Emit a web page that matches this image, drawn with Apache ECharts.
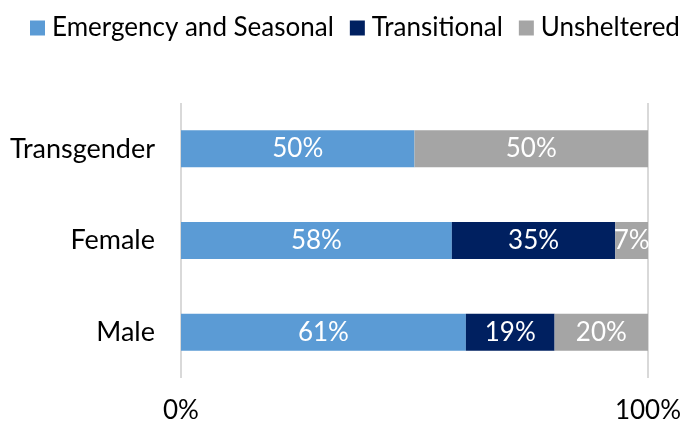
<!DOCTYPE html>
<html><head><meta charset="utf-8">
<script src="https://cdn.jsdelivr.net/npm/echarts@6/dist/echarts.min.js"></script>
<style>html,body{margin:0;padding:0;background:#fff}#c{width:700px;height:426px}</style>
</head><body><div id="c"></div>
<script>
const categories = ['Male', 'Female', 'Transgender'];
const seriesNames = ['Emergency and Seasonal', 'Transitional', 'Unsheltered'];
const emergency = [61, 58, 50];
const transitional = [19, 35, 0];
const unsheltered = [20, 7, 50];
const xTicks = [0, 100];
const colors = ['#5B9BD5', '#002060', '#A5A5A5'];
const values = [emergency, transitional, unsheltered];

const chart = echarts.init(document.getElementById('c'));
const font = 'Lato, "Open Sans", sans-serif';
chart.setOption({
  animation: false,
  textStyle: { fontFamily: font },
  legend: {
    top: 10, left: 25,
    itemWidth: 15, itemHeight: 15, itemGap: 16,
    icon: 'rect',
    textStyle: { fontSize: 26, color: '#000', fontFamily: font, padding: [0, 0, 0, 2] },
    data: seriesNames
  },
  grid: { left: 181, right: 52, top: 103, bottom: 48 },
  xAxis: {
    type: 'value', min: xTicks[0], max: xTicks[1], interval: xTicks[1] - xTicks[0],
    axisLine: { show: false }, axisTick: { show: false },
    splitLine: { show: true, lineStyle: { color: '#D9D9D9', width: 2 } },
    axisLabel: { fontSize: 26, color: '#000', margin: 20, formatter: v => v + '%' }
  },
  yAxis: {
    type: 'category', data: categories,
    axisLine: { show: false }, axisTick: { show: false },
    axisLabel: { fontSize: 27, color: '#000', margin: 26 }
  },
  series: seriesNames.map((n, i) => ({
    name: n, type: 'bar', stack: 'total',
    barWidth: 37,
    itemStyle: { color: colors[i] },
    label: {
      show: true, position: 'inside', color: '#fff', fontSize: 26,
      formatter: p => p.value > 0 ? p.value + '%' : ''
    },
    data: values[i]
  }))
});
</script></body></html>
